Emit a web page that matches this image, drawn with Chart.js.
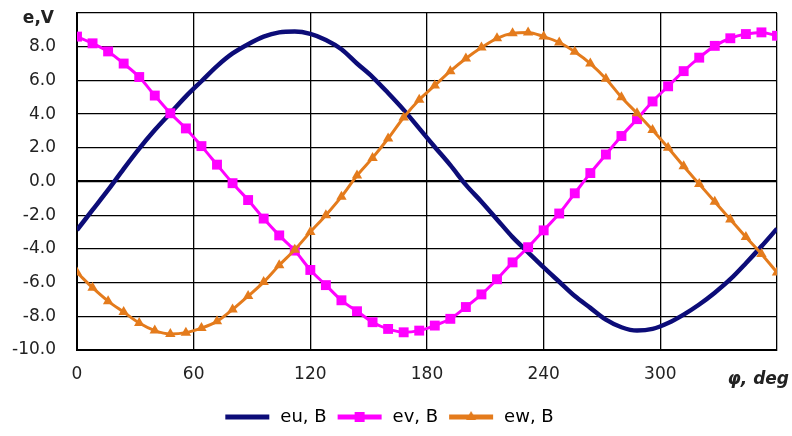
<!DOCTYPE html>
<html>
<head>
<meta charset="utf-8">
<script src="https://cdn.jsdelivr.net/npm/chart.js@4.4.1/dist/chart.umd.min.js"></script>
<style>
  html, body { margin: 0; padding: 0; background: #fff; }
</style>
</head>
<body>
<canvas id="chart" width="792" height="436"></canvas>
<script>
// rotor angle, deg (one sample every 8 deg)
const angles = [0, 8, 16, 24, 32, 40, 48, 56, 64, 72, 80, 88, 96, 104, 112, 120, 128, 136, 144, 152,
  160, 168, 176, 184, 192, 200, 208, 216, 224, 232, 240, 248, 256, 264, 272, 280, 288, 296, 304, 312,
  320, 328, 336, 344, 352, 360];

// phase EMFs, V
const euValues = [-2.88, -1.69, -0.5, 0.75, 1.95, 3.05, 4.05, 5.05, 5.95, 6.85, 7.6, 8.15, 8.6, 8.85, 8.9, 8.76, 8.4, 7.85, 7.0, 6.2,
  5.25, 4.25, 3.15, 2.05, 0.97, -0.2, -1.2, -2.25, -3.3, -4.2, -5.1, -5.95, -6.8, -7.5, -8.2, -8.65, -8.85, -8.75, -8.4, -7.9,
  -7.3, -6.6, -5.8, -4.85, -3.85, -2.8];
const evValues = [8.6, 8.2, 7.72, 7.0, 6.2, 5.1, 4.05, 3.15, 2.1, 1.0, -0.1, -1.1, -2.2, -3.2, -4.1, -5.25, -6.15, -7.05, -7.7, -8.35,
  -8.75, -8.95, -8.85, -8.55, -8.15, -7.45, -6.7, -5.8, -4.8, -3.9, -2.9, -1.9, -0.7, 0.5, 1.6, 2.7, 3.7, 4.75, 5.65, 6.55,
  7.35, 8.05, 8.5, 8.75, 8.85, 8.65];
const ewValues = [-5.4, -6.3, -7.1, -7.75, -8.4, -8.85, -9.05, -8.97, -8.7, -8.3, -7.6, -6.8, -5.97, -4.97, -4.05, -3.0, -2.0, -0.9, 0.35, 1.4,
  2.55, 3.8, 4.85, 5.7, 6.55, 7.3, 7.95, 8.5, 8.8, 8.85, 8.6, 8.25, 7.7, 7.0, 6.1, 5.0, 4.05, 3.05, 2.0, 0.9,
  -0.15, -1.2, -2.25, -3.3, -4.3, -5.4];

const seriesNames = ['eu, B', 'ev, B', 'ew, B'];
const seriesColors = ['#0c0c78', '#ff00ff', '#e47b1c'];
const seriesMarkers = [false, 'rect', 'triangle'];

const FONT = '"DejaVu Sans", "Liberation Sans", sans-serif';

function toPoints(values) {
  return values.map((v, i) => ({ x: angles[i], y: v }));
}

// little line + marker picture used as legend symbol
function legendIcon(color, marker) {
  let c = document.createElement('canvas');
  c.width = 46; c.height = 14;
  let g = c.getContext('2d');
  g.strokeStyle = color;
  g.lineWidth = 5;
  g.beginPath(); g.moveTo(1, 7); g.lineTo(45, 7); g.stroke();
  g.fillStyle = color;
  if (marker === 'rect') g.fillRect(18, 2, 10, 10);
  if (marker === 'triangle') {
    g.beginPath(); g.moveTo(23, 1); g.lineTo(28, 10); g.lineTo(18, 10); g.closePath(); g.fill();
  }
  return c;
}

// axis captions that sit where the top / last tick labels would be
const axisCaptions = {
  id: 'axisCaptions',
  afterDraw(chart) {
    let ctx = chart.ctx;
    ctx.save();
    ctx.fillStyle = '#222';
    ctx.textBaseline = 'middle';
    ctx.textAlign = 'right';
    ctx.font = 'bold 17px ' + FONT;
    ctx.fillText('e,V', 54, 19);
    ctx.font = 'italic bold 17px ' + FONT;
    ctx.fillText('\u03C6, deg', 789, 380);
    ctx.restore();
  }
};

const datasets = [euValues, evValues, ewValues].map((vals, i) => ({
  label: seriesNames[i],
  data: toPoints(vals),
  borderColor: seriesColors[i],
  backgroundColor: seriesColors[i],
  borderWidth: i === 0 ? 4.5 : 3,
  pointStyle: seriesMarkers[i] || 'circle',
  pointRadius: seriesMarkers[i] === 'rect' ? 7 : (seriesMarkers[i] === 'triangle' ? 6 : 0),
  pointBorderWidth: 0,
  cubicInterpolationMode: 'monotone',
  order: 3 - i
}));

new Chart(document.getElementById('chart'), {
  type: 'line',
  data: { datasets: datasets },
  options: {
    responsive: false,
    animation: false,
    layout: { padding: { top: 13, right: 15, left: 0, bottom: 0 } },
    plugins: {
      tooltip: { enabled: false },
      legend: {
        position: 'bottom',
        labels: {
          usePointStyle: true,
          pointStyleWidth: 48,
          padding: 9,
          color: '#222',
          font: { family: FONT, size: 18 },
          generateLabels: () => seriesNames.map((name, i) => ({
            text: name,
            fillStyle: seriesColors[i],
            strokeStyle: seriesColors[i],
            lineWidth: 0,
            pointStyle: legendIcon(seriesColors[i], seriesMarkers[i]),
            datasetIndex: i,
            hidden: false
          }))
        }
      }
    },
    scales: {
      x: {
        type: 'linear',
        min: 0,
        max: 360,
        afterFit: scale => {
          scale.height = 49;
          scale.paddingLeft = 0;
          scale.paddingRight = 0;
        },
        ticks: {
          stepSize: 60,
          padding: 14,
          color: '#222',
          font: { family: FONT, size: 17 },
          callback: v => v === 360 ? '' : v
        },
        grid: { color: '#000', lineWidth: 1.3, drawTicks: false },
        border: { display: true, color: '#000', width: 2 }
      },
      y: {
        min: -10,
        max: 10,
        afterFit: scale => {
          scale.width = 77;
          scale.paddingTop = 0;
          scale.paddingBottom = 0;
        },
        ticks: {
          stepSize: 2,
          padding: 21,
          color: '#222',
          font: { family: FONT, size: 17 },
          callback: v => v === 10 ? '' : v.toFixed(1)
        },
        grid: {
          color: '#000',
          lineWidth: ctx => ctx.tick && ctx.tick.value === 0 ? 2.2 : 1.3,
          drawTicks: false
        },
        border: { display: true, color: '#000', width: 2 }
      }
    }
  },
  plugins: [axisCaptions]
});
</script>
</body>
</html>
